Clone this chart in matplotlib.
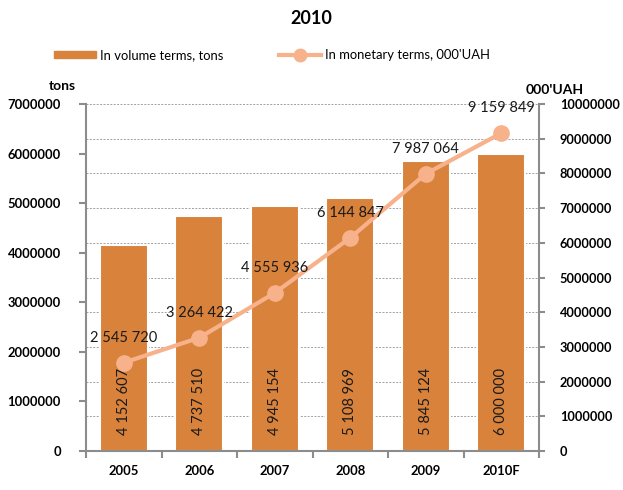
import matplotlib
matplotlib.use("Agg")
import matplotlib.pyplot as plt
from matplotlib.patches import Patch
from matplotlib.lines import Line2D

plt.rcParams['font.family'] = ['Lato', 'DejaVu Sans']

years = ["2005", "2006", "2007", "2008", "2009", "2010F"]
volume = [4152607, 4737510, 4945154, 5108969, 5845124, 6000000]
money = [2545720, 3264422, 4555936, 6144847, 7987064, 9159849]
volume_labels = ["4 152 607", "4 737 510", "4 945 154", "5 108 969", "5 845 124", "6 000 000"]
money_labels = ["2 545 720", "3 264 422", "4 555 936", "6 144 847", "7 987 064", "9 159 849"]
left_ticks = [0, 1000000, 2000000, 3000000, 4000000, 5000000, 6000000, 7000000]
right_ticks = [0, 1000000, 2000000, 3000000, 4000000, 5000000, 6000000, 7000000, 8000000, 9000000, 10000000]

bar_color = "#D8823C"
line_color = "#F7B28B"
axis_color = "#8C8C8C"
LEFT_MAX = 7000000
RIGHT_MAX = 10000000

fig = plt.figure(figsize=(6.23, 4.90), dpi=100)
ax = fig.add_axes([86/623, 1 - 451/490, (539-86)/623, (451-104)/490])
ax2 = ax.twinx()

x = list(range(len(years)))
ax.set_xlim(-0.5, len(years) - 0.5)
ax.set_ylim(0, LEFT_MAX)
ax2.set_ylim(0, RIGHT_MAX)

# gridlines (at right-axis ticks), behind bars
for t in right_ticks[1:]:
    ax.axhline(t * LEFT_MAX / RIGHT_MAX, color="#A0A0A0", lw=0.7, ls=(0, (2, 1.5)), zorder=0)

bars = ax.bar(x, volume, width=0.63, color=bar_color, edgecolor="white", linewidth=1.5, zorder=2)
for i, b in enumerate(bars):
    ax.text(i, 330000, volume_labels[i], rotation=90, ha="center", va="bottom",
            fontsize=10.5, color="#1a1a1a", zorder=5)

ax.set_zorder(1)
ax2.set_zorder(2)
ax.patch.set_visible(False)
ax2.patch.set_visible(False)

ax2.plot(x, money, color=line_color, lw=3, marker="o", markersize=11, markerfacecolor=line_color,
         markeredgecolor=line_color, zorder=4)
for i, v in enumerate(money):
    ax2.annotate(money_labels[i], (i, v), xytext=(0, 13), textcoords="offset points",
                 ha="center", va="bottom", fontsize=10.5, color="#1a1a1a", zorder=6)

# axes styling
ax.spines["top"].set_visible(False)
ax2.spines["top"].set_visible(False)
ax.spines["right"].set_visible(False)
ax2.spines["left"].set_visible(False)
ax2.spines["bottom"].set_visible(False)
ax.spines["left"].set_color(axis_color)
ax.spines["bottom"].set_color(axis_color)
ax2.spines["right"].set_color(axis_color)
for s in ("left", "bottom"):
    ax.spines[s].set_linewidth(1.5)
ax2.spines["right"].set_linewidth(1.5)

ax.set_yticks(left_ticks)
ax.set_yticklabels([str(t) for t in left_ticks], fontsize=9.4, fontweight="bold")
ax2.set_yticks(right_ticks)
ax2.set_yticklabels([str(t) for t in right_ticks], fontsize=9.2, fontweight="bold")
ax.tick_params(axis="y", direction="out", length=5, color=axis_color, width=1.5, pad=13)
ax2.tick_params(axis="y", direction="out", length=4, color=axis_color, width=1.5, pad=11)

ax.set_xticks(x)
ax.set_xticklabels(years, fontsize=9.4, fontweight="bold")
ax.tick_params(axis="x", length=0, pad=10)
ax.set_xticks([i - 0.5 for i in range(len(years) + 1)], minor=True)
ax.tick_params(axis="x", which="minor", direction="out", length=5, color=axis_color, width=1.5)

fig.text(0.5, 1 - 18/490, "2010", ha="center", va="center", fontsize=13, fontweight="bold")
fig.text(62/623, 1 - 86/490, "tons", ha="center", va="center", fontsize=10, fontweight="bold")
fig.text(555/623, 1 - 90/490, "000'UAH", ha="center", va="center", fontsize=10, fontweight="bold")

handles = [Patch(facecolor=bar_color, edgecolor=bar_color),
           Line2D([0], [0], color=line_color, lw=3, marker="o", markersize=9)]
fig.legend(handles, ["In volume terms, tons", "In monetary terms, 000'UAH"],
           loc="center left", bbox_to_anchor=(54/623, 1 - 55/490), ncol=2, frameon=False,
           fontsize=9.4, columnspacing=4.3, handlelength=3.2, handleheight=0.5,
           handletextpad=0.3, borderpad=0, borderaxespad=0)

fig.savefig("out.png", dpi=100)
